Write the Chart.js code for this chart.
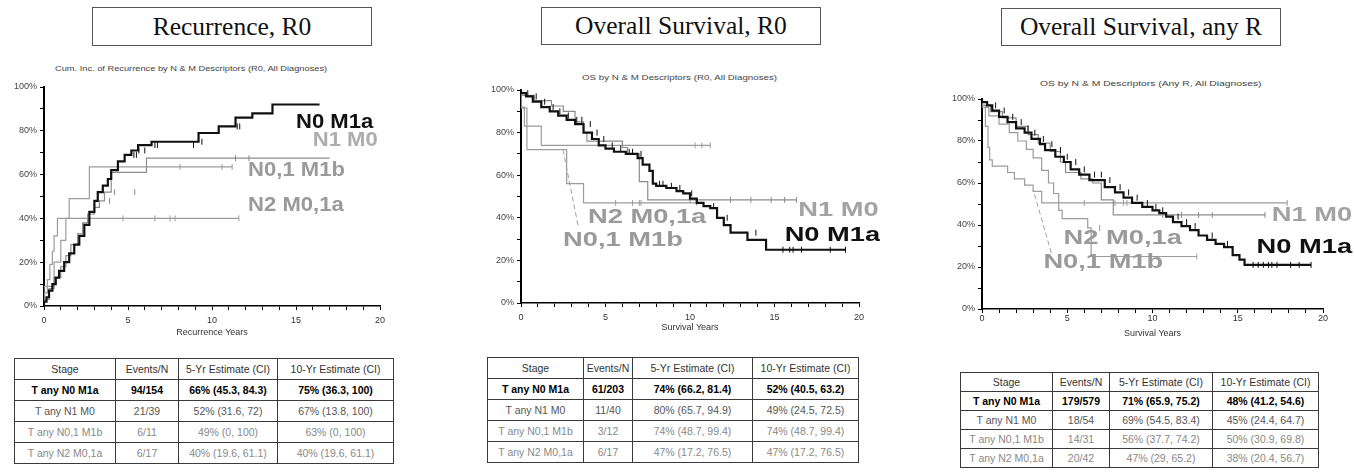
<!DOCTYPE html>
<html>
<head>
<meta charset="utf-8">
<script src="https://cdn.jsdelivr.net/npm/chart.js@4.4.1/dist/chart.umd.min.js"></script>
<style>
  body { margin: 0; width: 1354px; height: 472px; background: #fff; position: relative; overflow: hidden;
         font-family: "Liberation Sans", Arial, sans-serif; }
  .box { position: absolute; border: 1px solid #555; display: flex; align-items: center; justify-content: center;
         font-family: "Liberation Serif", "Times New Roman", serif; font-size: 25.5px; color: #111; box-sizing: border-box; }
  .sub { position: absolute; font-size: 8px; line-height: 9px; color: #444; white-space: nowrap; transform-origin: left center; }
  canvas { position: absolute; }
  table { position: absolute; border-collapse: collapse; table-layout: fixed; font-size: 10.5px; }
  td { border: 1px solid #3a3a3a; text-align: center; padding: 0; white-space: nowrap; overflow: hidden; }
</style>
</head>
<body>
<script>
/* Three Kaplan-Meier style panels (recurrence R0, OS R0, OS any R) with their estimate tables. */

const xTickYears = [0, 5, 10, 15, 20];
const yTickPct = [0, 20, 40, 60, 80, 100];
const stageNames = ['N0 M1a', 'N1 M0', 'N0,1 M1b', 'N2 M0,1a'];
const tableHeader = ['Stage', 'Events/N', '5-Yr Estimate (CI)', '10-Yr Estimate (CI)'];

// Recurrence, R0 (cumulative incidence, %), [years, pct]
const recurN0M1a = [[0,0],[0.15,2],[0.3,4],[0.5,7],[0.7,10],[0.9,13],[1.2,16],[1.5,20],[1.8,24],[2.1,28],[2.4,32],[2.7,37],[3.0,43],[3.2,48],[3.5,52],[3.8,55],[4.0,58],[4.4,62],[4.8,66],[5.2,69],[5.6,71],[6.4,73.5],[9.2,75],[10.4,79],[11.4,82],[12.4,86],[13.6,88],[13.9,92],[16.4,92]];
const recurN1M0 = [[0,0],[0.3,3],[0.6,8],[1.0,13],[1.3,18],[1.6,23],[2.0,28],[2.3,33],[2.6,38],[3.0,42],[3.3,45],[3.6,48],[4.0,52],[6.1,61],[8.6,67.5],[17.0,67.5]];
const recurN01M1b = [[0,0],[0.6,9],[1.0,20],[1.3,30],[1.5,40],[2.7,49],[5.05,63.5],[11.2,63.5]];
const recurN2M01a = [[0,0],[0.2,6],[0.35,12],[0.5,19],[0.6,25],[0.8,32],[3.7,40],[11.6,40]];
const recurN0M1aCens = [5.35, 5.5, 5.65, 6.0, 6.6, 6.75, 8.9, 9.4, 11.5, 11.65];
const recurN1M0Cens = [3.9, 4.2, 5.4, 11.4, 12.2];
const recurN01M1bCens = [8.1, 10.6, 11.2];
const recurN2M01aCens = [4.7, 6.6, 7.5, 7.8, 11.6];

// Overall survival, R0
const osR0N0M1a = [[0,100],[0.3,98.5],[0.7,97],[1.2,94.5],[1.7,92],[2.2,90],[2.7,88],[3.2,86],[3.7,84],[4.2,80],[4.6,77],[5.0,74],[5.5,72.5],[6.2,71],[6.9,70],[7.2,68],[7.6,65],[7.8,62],[8.0,56],[8.6,55],[9.2,54],[9.6,52.5],[10.0,51.5],[10.4,49],[10.8,47],[11.2,45.5],[11.6,44.5],[12.0,40],[12.4,36.6],[13.4,33],[14.5,29.6],[15.0,25],[19.2,25]];
const osR0N1M0 = [[0,100],[0.8,97.5],[1.8,95],[2.5,92.5],[3.2,90],[3.7,85],[3.9,80],[6.0,76],[6.3,73],[7.0,70],[7.5,57],[9.6,48.4],[16.3,48.4]];
const osR0N01M1b = [[0,100],[0.2,92],[1.2,83],[2.1,74],[11.2,74]];
const osR0N2M01a = [[0,100],[0.35,91.5],[2.7,72],[3.7,56],[4.6,47],[10.4,47]];
const osR0N0M1aCens = [0.4, 0.9, 1.4, 1.9, 2.3, 2.8, 3.3, 3.6, 4.1, 4.5, 4.9, 5.4, 5.9, 6.4, 6.6, 7.1, 8.2, 8.4, 8.9, 9.4, 10.1, 11.4, 12.2, 13.9, 15.5, 15.9, 16.1, 16.6, 18.3, 19.2];
const osR0N1M0Cens = [10.0, 12.4, 13.6, 14.8, 15.6, 16.3];
const osR0N01M1bCens = [10.3, 10.7, 11.2];
const osR0N2M01aCens = [5.6, 6.6, 7.0, 7.1, 10.4];
const osR0Leader = [[3.37, 36.6], [2.49, 71.8]];

// Overall survival, any R
const osAnyN0M1a = [[0,100],[0.3,98.5],[0.6,97],[1.0,94.5],[1.5,91.5],[2.0,89],[2.5,86],[2.9,84],[3.4,81],[3.7,78.5],[4.3,75.7],[4.8,72.5],[5.2,70],[5.7,66.5],[6.3,64],[7.2,61.4],[7.8,58],[8.3,55.5],[8.8,53],[9.4,50.5],[10.0,48.6],[10.4,47],[10.8,45.7],[11.2,44],[11.7,41.4],[12.2,39.5],[12.7,37.6],[13.2,35],[13.7,32.9],[14.2,31],[14.7,29.5],[15.1,25.7],[15.4,23.5],[15.7,21],[19.3,21]];
const osAnyN1M0 = [[0,100],[0.5,97],[1.2,94],[2.0,91],[2.7,87],[3.3,83],[4.0,79],[4.6,75],[4.9,70],[5.8,65],[6.5,62],[7.0,60],[7.7,52],[9.7,44.8],[16.6,44.8]];
const osAnyN01M1b = [[0,100],[0.2,97],[0.35,87],[0.45,77],[0.6,71],[1.5,68],[1.9,65],[2.5,62],[3.0,59],[3.5,56],[5.5,50.5],[17.9,50.5]];
const osAnyN2M01a = [[0,100],[0.4,96],[1.0,92],[1.6,88],[2.1,84],[2.6,80],[3.0,76],[3.5,72],[3.9,66],[4.2,60],[4.5,55],[4.7,47],[6.2,43],[6.4,38.6],[11.9,25],[12.6,25]];
const osAnyN0M1aCens = [0.8, 1.3, 1.8, 2.3, 2.7, 3.1, 3.6, 4.1, 4.6, 5.0, 5.5, 6.0, 6.6, 7.0, 7.5, 8.1, 8.6, 9.1, 9.7, 10.2, 10.6, 11.5, 12.0, 12.5, 13.5, 14.4, 15.9, 16.2, 16.5, 16.8, 17.0, 17.3, 18.1, 18.6, 19.3];
const osAnyN1M0Cens = [10.6, 11.7, 12.7, 13.5, 16.6];
const osAnyN01M1bCens = [6.0, 7.8, 8.3, 8.5, 17.9];
const osAnyN2M01aCens = [6.9, 12.6];
const osAnyLeader = [[4.07, 26.7], [3.0, 56.7]];

// label anchors in data units [years, pct]
const recurLabelPos = [[15.0, 84], [16.0, 75.8], [12.15, 62], [12.15, 46]];
const osR0LabelPos = [[15.6, 32], [16.4, 43.7], [2.49, 29.6], [3.96, 40.4]];
const osAnyLabelPos = [[16.1, 29.5], [17.0, 44.8], [3.6, 22.4], [4.78, 33.8]];

const recurTable = [
  ['T any N0 M1a', '94/154', '66% (45.3, 84.3)', '75% (36.3, 100)'],
  ['T any N1 M0', '21/39', '52% (31.6, 72)', '67% (13.8, 100)'],
  ['T any N0,1  M1b', '6/11', '49% (0, 100)', '63% (0, 100)'],
  ['T any N2 M0,1a', '6/17', '40% (19.6, 61.1)', '40% (19.6, 61.1)'],
];
const osR0Table = [
  ['T any N0 M1a', '61/203', '74% (66.2, 81.4)', '52% (40.5, 63.2)'],
  ['T any N1 M0', '11/40', '80% (65.7, 94.9)', '49% (24.5, 72.5)'],
  ['T any N0,1  M1b', '3/12', '74% (48.7, 99.4)', '74% (48.7, 99.4)'],
  ['T any N2 M0,1a', '6/17', '47% (17.2, 76.5)', '47% (17.2, 76.5)'],
];
const osAnyTable = [
  ['T any N0 M1a', '179/579', '71% (65.9, 75.2)', '48% (41.2, 54.6)'],
  ['T any N1 M0', '18/54', '69% (54.5, 83.4)', '45% (24.4, 64.7)'],
  ['T any N0,1  M1b', '14/31', '56% (37.7, 74.2)', '50% (30.9, 69.8)'],
  ['T any N2 M0,1a', '20/42', '47% (29, 65.2)', '38% (20.4, 56.7)'],
];

const FONT = '"Liberation Sans", Arial, sans-serif';
const lineColors = ['#111', '#8c8c8c', '#9c9c9c', '#9c9c9c'];
const lineWidths = [2.2, 1.2, 1.2, 1.2];
const rowColors = ['#333', '#000', '#555', '#888', '#888'];

const panels = [
  {
    title: 'Recurrence, R0', box: [92, 7, 280, 39],
    sub: 'Cum. Inc. of Recurrence by N & M Descriptors (R0, All Diagnoses)', subPos: [55, 63.5, 272],
    cv: { left: 0, top: 78, w: 400, h: 260, yW: 44, xH: 32, padTop: 9, padRight: 20, tickPad: 5 },
    xTitle: 'Recurrence Years', stretch: 1.05,
    curves: [recurN0M1a, recurN1M0, recurN01M1b, recurN2M01a],
    cens: [recurN0M1aCens, recurN1M0Cens, recurN01M1bCens, recurN2M01aCens],
    labelPos: recurLabelPos, labelColors: ['#111', '#adadad', '#9a9a9a', '#9a9a9a'], leader: null,
    table: recurTable, tPos: [14, 358], cols: [101, 63, 99, 116], rowH: 21,
  },
  {
    title: 'Overall Survival, R0', box: [541, 7, 280, 38],
    sub: 'OS by N & M Descriptors (R0, All Diagnoses)', subPos: [582, 72.5, 195],
    cv: { left: 470, top: 80, w: 410, h: 253, yW: 51, xH: 30, padTop: 10, padRight: 21, tickPad: 5 },
    xTitle: 'Survival Years', stretch: 1.3,
    curves: [osR0N0M1a, osR0N1M0, osR0N01M1b, osR0N2M01a],
    cens: [osR0N0M1aCens, osR0N1M0Cens, osR0N01M1bCens, osR0N2M01aCens],
    labelPos: osR0LabelPos, labelColors: ['#111', '#a3a3a3', '#9a9a9a', '#9a9a9a'], leader: osR0Leader,
    table: osR0Table, tPos: [487, 357], cols: [96, 49, 120, 106], rowH: 21,
  },
  {
    title: 'Overall Survival, any R', box: [1001, 8, 280, 38],
    sub: 'OS by N & M Descriptors (Any R, All Diagnoses)', subPos: [1040, 78.5, 222],
    cv: { left: 930, top: 85, w: 424, h: 254, yW: 52, xH: 30, padTop: 14, padRight: 31, tickPad: 0 },
    xTitle: 'Survival Years', stretch: 1.3,
    curves: [osAnyN0M1a, osAnyN1M0, osAnyN01M1b, osAnyN2M01a],
    cens: [osAnyN0M1aCens, osAnyN1M0Cens, osAnyN01M1bCens, osAnyN2M01aCens],
    labelPos: osAnyLabelPos, labelColors: ['#111', '#a3a3a3', '#9a9a9a', '#9a9a9a'], leader: osAnyLeader,
    table: osAnyTable, tPos: [960, 372], cols: [92, 57, 103, 106], rowH: 19,
  },
];

// value of a step curve at time t
function stepAt(curve, t) {
  let v = curve[0][1];
  for (const [x, y] of curve) { if (x <= t) v = y; }
  return v;
}

function el(tag, cls, parent) {
  const e = document.createElement(tag);
  if (cls) e.className = cls;
  (parent || document.body).appendChild(e);
  return e;
}

function labelPlugin(p) {
  return {
    id: 'curveLabels',
    afterDatasetsDraw(chart) {
      const { ctx, scales: { x, y } } = chart;
      ctx.save();
      ctx.font = 'bold 21px ' + FONT;
      ctx.textBaseline = 'middle';
      p.labelPos.forEach(([lx, ly], i) => {
        ctx.save();
        ctx.translate(x.getPixelForValue(lx), y.getPixelForValue(ly));
        ctx.scale(p.stretch, 1);
        ctx.fillStyle = p.labelColors[i];
        ctx.fillText(stageNames[i], 0, 0);
        ctx.restore();
      });
      ctx.restore();
    },
  };
}

function buildPanel(p) {
  const b = el('div', 'box');
  Object.assign(b.style, { left: p.box[0] + 'px', top: p.box[1] + 'px', width: p.box[2] + 'px', height: p.box[3] + 'px' });
  el('span', null, b).textContent = p.title;

  const s = el('div', 'sub');
  s.textContent = p.sub;
  s.style.left = p.subPos[0] + 'px';
  s.style.top = p.subPos[1] + 'px';
  s.style.transform = 'scaleX(' + (p.subPos[2] / s.offsetWidth).toFixed(3) + ')';

  const c = p.cv;
  const canvas = el('canvas');
  canvas.width = c.w; canvas.height = c.h;
  canvas.style.left = c.left + 'px'; canvas.style.top = c.top + 'px';

  const datasets = [];
  p.curves.forEach((curve, i) => {
    datasets.push({
      type: 'line', data: curve.map(([x, y]) => ({ x, y })), stepped: 'after',
      borderColor: lineColors[i], borderWidth: lineWidths[i], pointRadius: 0, fill: false,
      order: i === 0 ? 0 : 1,
    });
    datasets.push({
      type: 'line', showLine: false, data: p.cens[i].map((t) => ({ x: t, y: stepAt(curve, t) })),
      pointStyle: 'line', rotation: 90, pointRadius: 3, borderColor: lineColors[i], borderWidth: 1,
      order: i === 0 ? 0 : 1,
    });
  });
  if (p.leader) {
    datasets.push({
      type: 'line', data: p.leader.map(([x, y]) => ({ x, y })), borderColor: '#a0a0a0',
      borderWidth: 1, borderDash: [5, 3], pointRadius: 0,
    });
  }

  const tickFont = { size: 9, family: FONT };
  new Chart(canvas, {
    type: 'line',
    data: { datasets },
    plugins: [labelPlugin(p)],
    options: {
      responsive: false, animation: false, devicePixelRatio: 1,
      layout: { padding: { left: 0, top: c.padTop, right: c.padRight, bottom: 0 } },
      plugins: { legend: { display: false }, tooltip: { enabled: false } },
      scales: {
        x: {
          type: 'linear', min: 0, max: 20,
          afterFit: (sc) => { sc.height = c.xH; },
          border: { display: true, color: '#000', width: 1.5 },
          grid: { drawOnChartArea: false, drawTicks: true, tickLength: 4, color: '#000' },
          ticks: {
            stepSize: 1, autoSkip: false, maxRotation: 0, includeBounds: false, padding: c.tickPad,
            color: '#333', font: tickFont,
            callback: (v) => (xTickYears.includes(v) ? String(v) : ''),
          },
          title: { display: true, text: p.xTitle, color: '#333', font: tickFont, padding: { top: 0, bottom: 0 } },
        },
        y: {
          type: 'linear', min: 0, max: 100,
          afterFit: (sc) => { sc.width = c.yW; },
          border: { display: true, color: '#000', width: 2 },
          grid: { drawOnChartArea: false, drawTicks: true, tickLength: 4, color: '#000' },
          ticks: {
            stepSize: 10, autoSkip: false, padding: 3, color: '#444', font: tickFont,
            callback: (v) => (yTickPct.includes(v) ? v + '%' : ''),
          },
        },
      },
    },
  });

  const t = el('table');
  t.style.left = p.tPos[0] + 'px'; t.style.top = p.tPos[1] + 'px';
  t.style.width = p.cols.reduce((a, w) => a + w, 0) + 'px';
  const cg = el('colgroup', null, t);
  p.cols.forEach((w) => { el('col', null, cg).style.width = w + 'px'; });
  [tableHeader, ...p.table].forEach((row, ri) => {
    const tr = el('tr', null, t);
    tr.style.height = p.rowH + 'px';
    row.forEach((txt) => {
      const td = el('td', null, tr);
      td.textContent = txt;
      td.style.color = rowColors[ri];
      if (ri === 1) td.style.fontWeight = 'bold';
    });
  });
}

panels.forEach(buildPanel);
</script>
</body>
</html>
